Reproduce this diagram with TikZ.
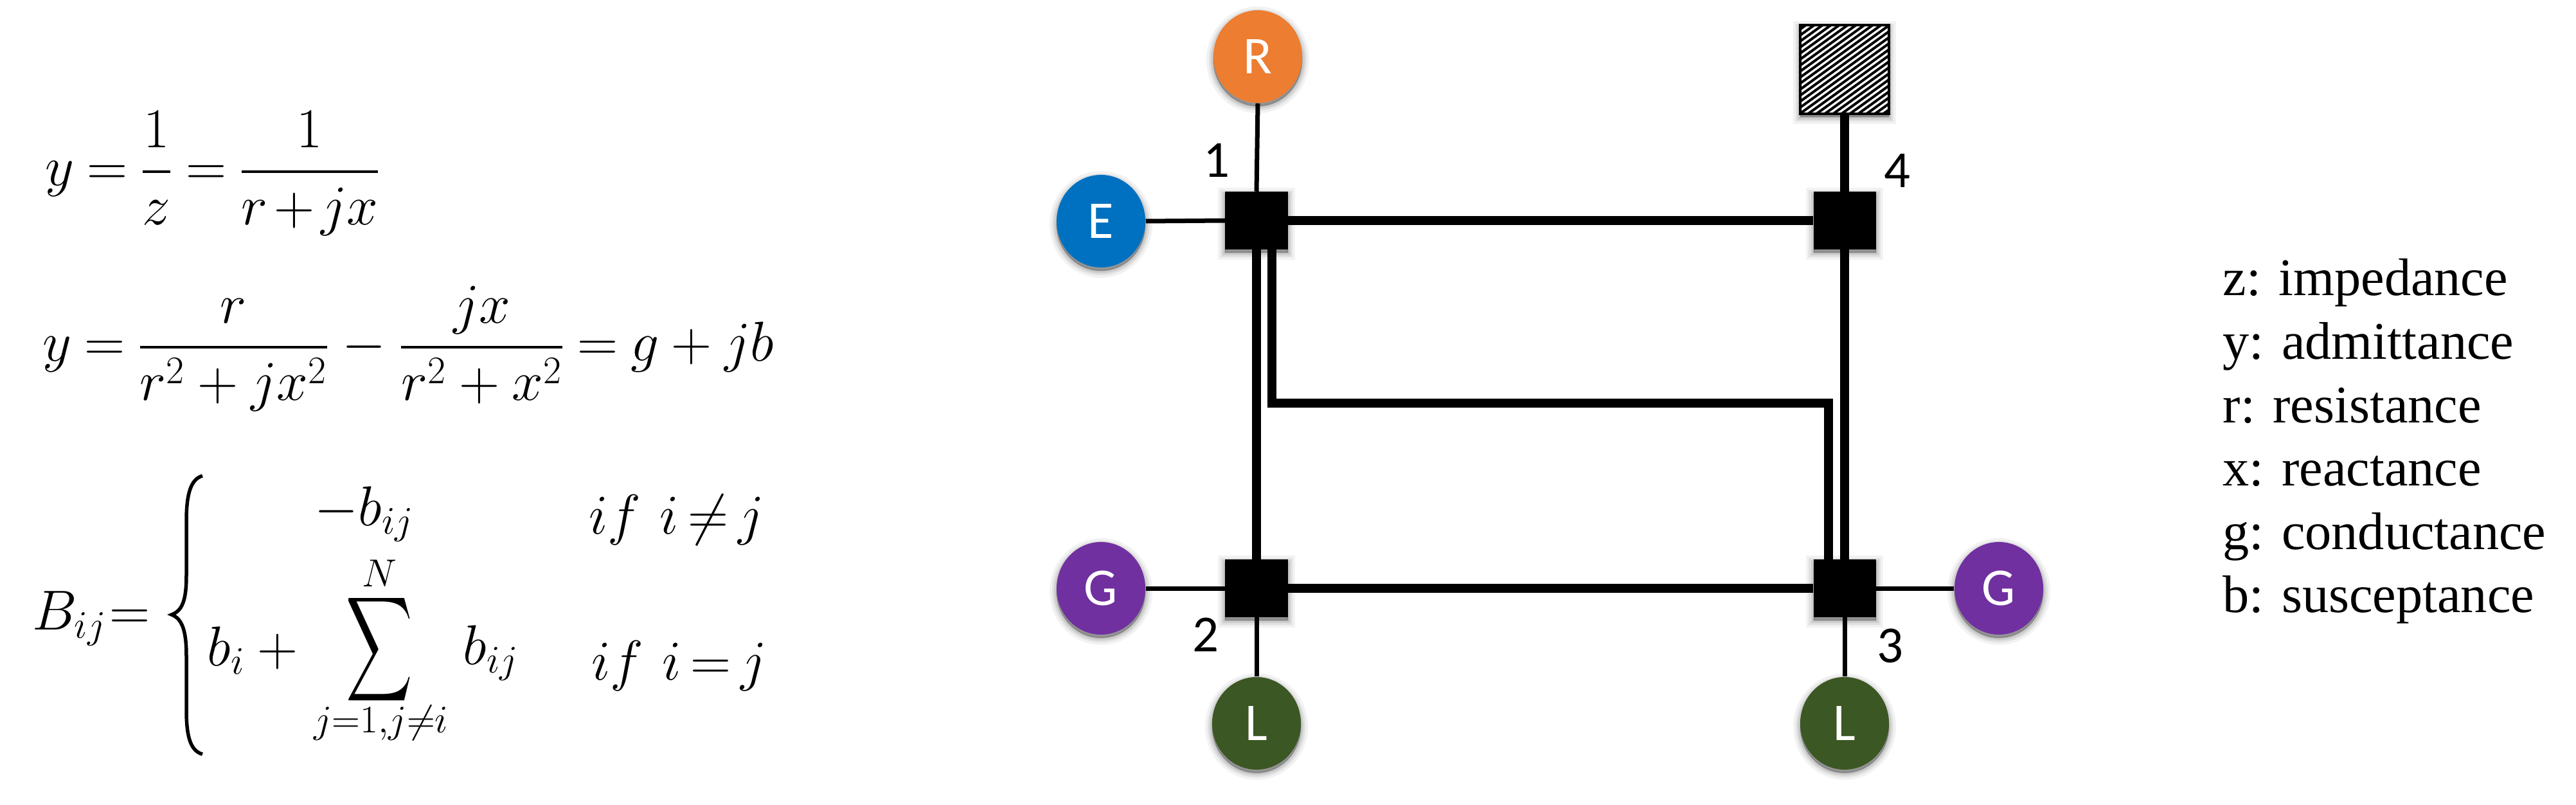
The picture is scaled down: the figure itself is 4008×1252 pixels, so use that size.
\documentclass[tikz,border=0pt]{standalone}
\usepackage{amsmath}
\usepackage{fontspec}
\usetikzlibrary{shapes.geometric}
\setmainfont{Liberation Serif}
\newfontfamily\cali{Carlito}
\tikzset{
  softshadow/.style={
    preaction={draw=black,fill=black,opacity=.05,line width=.22cm,transform canvas={yshift=-.05cm}},
    preaction={draw=black,fill=black,opacity=.07,line width=.14cm,transform canvas={yshift=-.05cm}},
    preaction={draw=black,fill=black,opacity=.09,line width=.08cm,transform canvas={yshift=-.05cm}},
    preaction={draw=black,fill=black,opacity=.12,line width=.02cm,transform canvas={yshift=-.05cm}}},
  gen/.style={ellipse,softshadow,inner sep=0pt,minimum width=1.38cm,minimum height=1.44cm,text=white,font=\cali\fontsize{23.5}{26}\selectfont},
  busbar/.style={rectangle,softshadow,fill=black,inner sep=0pt,minimum width=.97cm,minimum height=.89cm},
  thinline/.style={line width=.07cm},
  thickline/.style={line width=.14cm},
  busnum/.style={font=\cali\fontsize{23}{26}\selectfont,inner sep=0pt},
  eqn/.style={inner sep=0pt,font=\fontsize{25}{30}\selectfont},
  limit/.style={inner sep=0pt,font=\fontsize{17.5}{20}\selectfont},
  legend/.style={inner sep=0pt,anchor=base west,font=\fontsize{23.4}{28}\selectfont}
}
\begin{document}
\begin{tikzpicture}[x=.01cm,y=-.01cm]
\useasboundingbox (0,0) rectangle (4008,1252);
% equations
\node[eqn,anchor=base west] (e1) at (70,289) {$\thickmuskip=4mu\medmuskip=2mu\displaystyle y=\frac{1}{z}=\frac{1}{r+jx}$};
\node[eqn,anchor=base west] (e2) at (66,562) {$\thickmuskip=4mu\displaystyle y=\frac{r}{r^{2}+jx^{2}}-\frac{jx}{r^{2}+x^{2}}=g+jb$};
\node[eqn,anchor=base west] (e3) at (50,979) {$\thickmuskip=1mu B_{ij}=$};
\draw[line width=.055cm] (315,740) .. controls (298,745) and (290,765) .. (290,810) -- (290,895) .. controls (290,935) and (283,950) .. (267,956) .. controls (283,962) and (290,980) .. (290,1020) -- (290,1105) .. controls (290,1150) and (298,1168) .. (315,1173);
\node[eqn,anchor=base west] (c1) at (489,817) {$-b_{ij}$};
\node[eqn,anchor=base west] (c2) at (916,830) {$\thickmuskip=3mu if\,\,i\neq j$};
\node[eqn,anchor=base west] (c3) at (322,1035) {$b_{i}+{}$};
\node[eqn,anchor=center] (c4) at (590,1010) {\scalebox{.82}[1.3]{$\displaystyle\sum$}};
\node[limit] (c5) at (590,892) {$N$};
\node[limit] (c6) at (593,1124) {$j{=}1{,}j{\neq}i$};
\node[eqn,anchor=base west] (c7) at (720,1033) {$b_{ij}$};
\node[eqn,anchor=base west] (c8) at (920,1057) {$\thickmuskip=3mu if\,\,i=j$};
% buses and devices
\node[gen,fill={rgb,255:red,237;green,125;blue,49}] (R) at (1957,88) {R};
\node[gen,fill={rgb,255:red,0;green,112;blue,192}] (E) at (1713,344) {E};
\node[gen,fill={rgb,255:red,112;green,48;blue,160}] (G2) at (1713,915) {G};
\node[gen,fill={rgb,255:red,112;green,48;blue,160}] (G3) at (3110,915) {G};
\node[gen,fill={rgb,255:red,59;green,87;blue,35}] (L2) at (1955,1125) {L};
\node[gen,fill={rgb,255:red,59;green,87;blue,35}] (L3) at (2870,1125) {L};
\node[busbar] (b1) at (1955,343) {};
\node[busbar] (b2) at (1955,915) {};
\node[busbar] (b3) at (2870,915) {};
\node[busbar] (b4) at (2870,343) {};
\node[rectangle,softshadow,draw=black,line width=.04cm,fill=white,inner sep=0pt,minimum width=1.38cm,minimum height=1.37cm] (S) at (2870,108) {};
\begin{scope}
\clip (S.south west) rectangle (S.north east);
\foreach \k in {-15,...,15}{
  \draw[line width=.04cm] ({2870+\k*13-100},{108+72}) -- ({2870+\k*13+100},{108-72});
}
\end{scope}
% connectors
\coordinate (m) at (2400,627);
\draw[thinline] (R.south) -- (b1.north);
\draw[thinline] (E.east) -- (b1.west);
\draw[thinline] (G2.east) -- (b2.west);
\draw[thinline] (L2.north) -- (b2.south);
\draw[thinline] (G3.west) -- (b3.east);
\draw[thinline] (L3.north) -- (b3.south);
\draw[thickline] (S.south) -- (b4.north);
\draw[thickline] (b1.east) -- (b4.west);
\draw[thickline] (b2.east) -- (b3.west);
\draw[thickline] (b1.south) -- (b2.north);
\draw[thickline] (b4.south) -- (b3.north);
\draw[thickline] ([xshift=.24cm]b1.south) |- (m) -| ([xshift=-.25cm]b3.north);
% bus numbers
\node[busnum] (n1) at (1893,249) {1};
\node[busnum] (n2) at (1876,987) {2};
\node[busnum] (n3) at (2941,1005) {3};
\node[busnum] (n4) at (2952,266) {4};
% legend
\node[legend] (t1) at (3458,460) {z: impedance};
\node[legend] (t2) at (3458,558) {y: admittance};
\node[legend] (t3) at (3458,657) {r: resistance};
\node[legend] (t4) at (3458,755) {x: reactance};
\node[legend] (t5) at (3458,854) {g: conductance};
\node[legend] (t6) at (3458,952) {b: susceptance};
\end{tikzpicture}
\end{document}
